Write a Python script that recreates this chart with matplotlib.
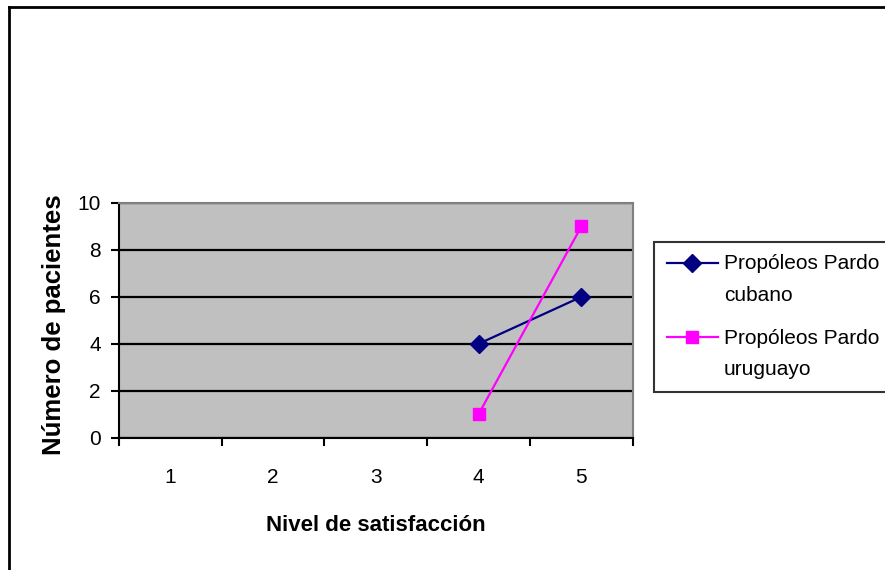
import numpy as np
import matplotlib
matplotlib.use("Agg")
import matplotlib.pyplot as plt
from matplotlib.ticker import FixedLocator
from matplotlib.lines import Line2D
from matplotlib.legend_handler import HandlerLine2D

plt.rcParams['font.family'] = ['Liberation Sans', 'DejaVu Sans']

niveles = [1, 2, 3, 4, 5]
cubano = [np.nan, np.nan, np.nan, 4, 6]
uruguayo = [np.nan, np.nan, np.nan, 1, 9]
etiquetas = ["Propóleos Pardo\ncubano", "Propóleos Pardo\nuruguayo"]


class HandlerArriba(HandlerLine2D):
    # la muestra del legend va a la altura de la primera linea del texto
    def __init__(self, shift, **kw):
        super().__init__(**kw)
        self.shift = shift

    def create_artists(self, legend, orig_handle, xdescent, ydescent,
                       width, height, fontsize, trans):
        arts = super().create_artists(legend, orig_handle, xdescent, ydescent,
                                      width, height, fontsize, trans)
        for a in arts:
            a.set_ydata(np.asarray(a.get_ydata(), dtype=float) + self.shift)
        return arts


fig = plt.figure(figsize=(8.85, 5.7), dpi=100)
ax = fig.add_axes([0.1345, 0.2321, 0.5804, 0.4118])
ax.set_facecolor("#C0C0C0")

l1, = ax.plot(niveles, cubano, color="#000080", lw=1.6, marker="D", ms=9,
              label=etiquetas[0])
l2, = ax.plot(niveles, uruguayo, color="#FF00FF", lw=1.6, marker="s", ms=8.5,
              label=etiquetas[1])

ax.set_xlim(0.5, 5.5)
ax.set_ylim(0, 10)
ax.set_yticks(range(0, 11, 2))
ax.yaxis.grid(True, color="black", lw=1.6)
ax.set_axisbelow(True)

# categorias centradas, marcas entre categorias
ax.set_xticks(niveles)
ax.xaxis.set_minor_locator(FixedLocator(np.arange(0.5, 5.6, 1)))
ax.tick_params(axis="x", which="major", length=0, pad=22, labelsize=15)
ax.tick_params(axis="x", which="minor", length=6, width=1.5, direction="out")
ax.tick_params(axis="y", length=6, width=1.5, direction="out", pad=7, labelsize=15)

for s in ["top", "right"]:
    ax.spines[s].set_color("#808080")
    ax.spines[s].set_linewidth(1.5)
for s in ["left", "bottom"]:
    ax.spines[s].set_color("black")
    ax.spines[s].set_linewidth(1.5)

ax.set_xlabel("Nivel de satisfacción", fontsize=16, fontweight="bold", va="center")
ax.xaxis.set_label_coords(0.5, -0.372)
ax.set_ylabel("Número de pacientes", fontsize=18.5, fontweight="bold", va="center")
ax.yaxis.set_label_coords(-0.126, 0.48)

leg = fig.legend(handles=[l1, l2], labels=etiquetas,
                 loc="upper left", bbox_to_anchor=(654 / 885, 1 - 241.5 / 570),
                 fontsize=15, frameon=True, fancybox=False, edgecolor="black",
                 handlelength=2.45, handletextpad=0.3, labelspacing=1.14,
                 borderpad=0.6, borderaxespad=0,
                 handler_map={Line2D: HandlerArriba(12)})
leg.get_frame().set_linewidth(1.5)
for t in leg.get_texts():
    t.set_linespacing(1.85)

# marco exterior del grafico
fig.add_artist(Line2D([9 / 885, 9 / 885], [0, 1 - 7 / 570], transform=fig.transFigure,
                      color="black", lw=2))
fig.add_artist(Line2D([9 / 885, 1], [1 - 7 / 570, 1 - 7 / 570], transform=fig.transFigure,
                      color="black", lw=2))

fig.savefig("out.png", dpi=100)
